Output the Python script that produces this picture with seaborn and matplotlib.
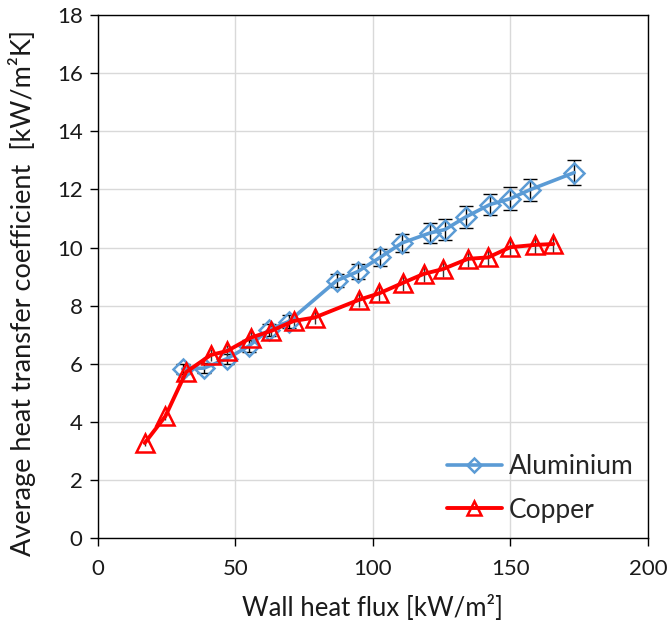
import matplotlib
matplotlib.use("Agg")
import matplotlib.pyplot as plt
import seaborn as sns
import pandas as pd

# Data
al_flux = [30.8, 38.6, 46.8, 54.9, 62.1, 69.3, 86.8, 94.4, 102.6, 110.6, 120.7, 126.2, 133.7, 142.5, 149.9, 157.1, 173.2]
al_htc = [5.82, 5.85, 6.17, 6.61, 7.17, 7.45, 8.86, 9.17, 9.66, 10.16, 10.50, 10.62, 11.05, 11.48, 11.68, 11.99, 12.58]
al_err = [0.17, 0.17, 0.18, 0.19, 0.21, 0.22, 0.23, 0.25, 0.28, 0.31, 0.34, 0.35, 0.37, 0.37, 0.39, 0.38, 0.43]

cu_flux = [17.0, 24.5, 32.0, 41.0, 47.0, 55.7, 63.0, 71.1, 78.8, 94.9, 102.2, 110.8, 118.4, 125.5, 134.5, 141.9, 149.9, 158.9, 165.6]
cu_htc = [3.27, 4.19, 5.71, 6.30, 6.44, 6.90, 7.13, 7.47, 7.59, 8.20, 8.42, 8.78, 9.09, 9.26, 9.61, 9.66, 10.01, 10.09, 10.12]
cu_err = [0.10, 0.13, 0.17, 0.19, 0.19, 0.21, 0.21, 0.22, 0.23, 0.25, 0.25, 0.26, 0.27, 0.28, 0.29, 0.29, 0.30, 0.30, 0.30]

x_ticks = [0, 50, 100, 150, 200]
y_ticks = [0, 2, 4, 6, 8, 10, 12, 14, 16, 18]

sns.set_style("whitegrid")
plt.rcParams['font.family'] = ['Lato', 'DejaVu Sans']

fig = plt.figure(figsize=(6.67, 6.30), dpi=100)
ax = fig.add_axes([0.1469, 0.146, 0.8246, 0.830])

blue = "#5B9BD5"
red = "#FF0000"

df_al = pd.DataFrame({"flux": al_flux, "htc": al_htc})
df_cu = pd.DataFrame({"flux": cu_flux, "htc": cu_htc})

ax.errorbar(al_flux, al_htc, yerr=al_err, fmt='none', ecolor='black', elinewidth=1.0, capsize=5, capthick=1.0, zorder=3)
ax.errorbar(cu_flux, cu_htc, yerr=cu_err, fmt='none', ecolor='#333333', elinewidth=1.0, capsize=0, zorder=3)

sns.lineplot(data=df_al, x="flux", y="htc", ax=ax, color=blue, linewidth=2.6,
             marker='D', markersize=10, markerfacecolor='none', markeredgecolor=blue,
             markeredgewidth=1.8, label="Aluminium", sort=False, zorder=4)
sns.lineplot(data=df_cu, x="flux", y="htc", ax=ax, color=red, linewidth=2.8,
             marker='^', markersize=13, markerfacecolor='none', markeredgecolor=red,
             markeredgewidth=1.8, label="Copper", sort=False, zorder=5)

ax.set_xlim(0, 200)
ax.set_ylim(0, 18)
ax.set_xticks(x_ticks)
ax.set_yticks(y_ticks)
ax.grid(True, color="#d9d9d9", linewidth=1.0)
for s in ax.spines.values():
    s.set_visible(True)
    s.set_color("black")
    s.set_linewidth(1.0)
ax.tick_params(axis='both', which='major', direction='out', length=6, width=1.0,
               color='black', labelsize=16, labelcolor='#1a1a1a', bottom=True, left=True, pad=5)
ax.tick_params(axis='x', pad=9)

ax.set_xlabel("Wall heat flux [kW/m²]", fontsize=18.5, color='#1a1a1a', va='center')
ax.set_ylabel("Average heat transfer coefficient  [kW/m²K]", fontsize=19.5, color='#1a1a1a', va='center')
ax.xaxis.set_label_coords(0.5, -0.134)
ax.yaxis.set_label_coords(-0.138, 0.468)

leg = ax.legend(loc='upper left', bbox_to_anchor=(0.6345, 0.1606), frameon=False, fontsize=19,
                handlelength=2.08, labelspacing=0.7, handletextpad=0.25, markerscale=0.75,
                borderpad=0, borderaxespad=0)

fig.savefig("out.png", dpi=100)
